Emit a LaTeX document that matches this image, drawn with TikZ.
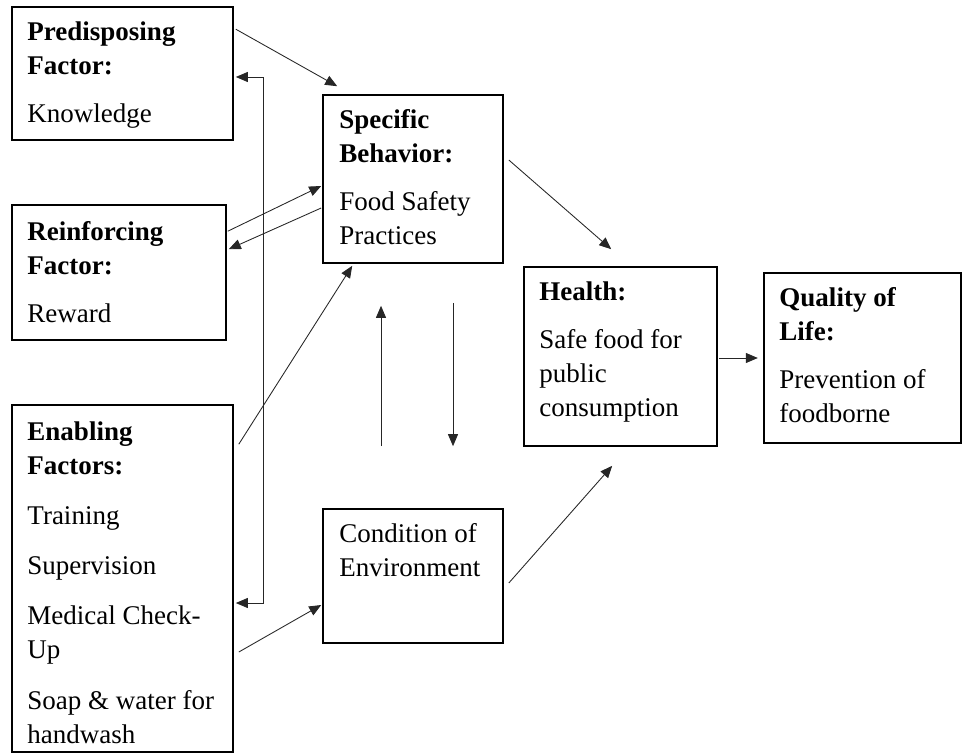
\documentclass[tikz,border=0pt]{standalone}
\usepackage{fontspec}
\setmainfont{Liberation Serif}
\usetikzlibrary{calc,arrows.meta}
\tikzset{factorbox/.style={draw,line width=1.2pt,inner sep=0pt}}
\tikzset{boxtext/.style={anchor=north west,align=left,inner sep=0pt,font=\fontsize{20.25pt}{25.5pt}\selectfont}}
\tikzset{flow/.style={line width=0.65pt,draw=black!85,-{Triangle[length=9pt,width=7.5pt]}}}
\tikzset{flowboth/.style={line width=0.65pt,draw=black!85,{Triangle[length=9pt,width=7.5pt]}-{Triangle[length=9pt,width=7.5pt]}}}

\begin{document}
\begin{tikzpicture}[x=0.75pt,y=-0.75pt]
	\useasboundingbox (0,0) rectangle (962,755);
	% boxes
	\node[factorbox,minimum width=165.75pt,minimum height=99.75pt] (predisp) at (122.5,73.5) {};
	\node[factorbox,minimum width=160.5pt,minimum height=101.25pt] (reinf) at (119,272.5) {};
	\node[factorbox,minimum width=165.75pt,minimum height=260.25pt] (enabl) at (122.5,578.5) {};
	\node[factorbox,minimum width=135pt,minimum height=126pt] (specif) at (413,179) {};
	\node[factorbox,minimum width=135pt,minimum height=100.5pt] (cond) at (413,576) {};
	\node[factorbox,minimum width=144.75pt,minimum height=134.25pt] (health) at (620.5,356.5) {};
	\node[factorbox,minimum width=147.75pt,minimum height=127.5pt] (quality) at (862.5,358) {};
	% texts
	\node[boxtext] at ($(predisp.north west)+(16,15)$) {\textbf{Predisposing}\\\textbf{Factor:}\\[10.5pt]Knowledge};
	\node[boxtext] at ($(reinf.north west)+(16,17)$) {\textbf{Reinforcing}\\\textbf{Factor:}\\[10.5pt]Reward};
	\node[boxtext] at ($(enabl.north west)+(16,17)$) {\textbf{Enabling}\\\textbf{Factors:}\\[12pt]Training\\[12pt]Supervision\\[12pt]Medical Check-\\Up\\[13pt]Soap \& water for\\handwash};
	\node[boxtext] at ($(specif.north west)+(17,15)$) {\textbf{Specific}\\\textbf{Behavior:}\\[10.5pt]Food Safety\\Practices};
	\node[boxtext] at ($(cond.north west)+(17,15)$) {Condition of\\Environment};
	\node[boxtext] at ($(health.north west)+(16,15)$) {\textbf{Health:}\\[10.5pt]Safe food for\\public\\consumption};
	\node[boxtext] at ($(quality.north west)+(16,15)$) {\textbf{Quality of}\\\textbf{Life:}\\[10.5pt]Prevention of\\foodborne};
	% connectors
	\draw[flow] ($(predisp.north east)+(2,23)$) -- ($(specif.north west)+(15,-8)$);
	\draw[flowboth] ($(predisp.east)+(2,3.5)$) -- ++(28,0) |- ($(enabl.east)+(2,24.5)$);
	\draw[flow] ($(reinf.north east)+(1,27)$) -- ($(specif.west)+(-1,7)$);
	\draw[flow] ($(specif.west)+(-1,29)$) -- ($(reinf.north east)+(2,45)$);
	\draw[flow] ($(enabl.north east)+(5,40)$) -- ($(specif.south west)+(30,2)$);
	\draw[flow] ($(cond.north)+(-32,-62)$) -- ($(specif.south)+(-32,42)$);
	\draw[flow] ($(specif.south)+(40,39)$) -- ($(cond.north)+(40,-62)$);
	\draw[flow] ($(specif.east)+(5,-19)$) -- ($(health.north west)+(88,-17)$);
	\draw[flow] ($(cond.east)+(5,7)$) -- ($(health.south west)+(89,19)$);
	\draw[flow] ($(health.east)+(1,1.5)$) -- ++(39,0);
	\draw[flow] ($(enabl.east)+(5,73.5)$) -- ($(cond.west)+(-1,29)$);
\end{tikzpicture}
\end{document}
